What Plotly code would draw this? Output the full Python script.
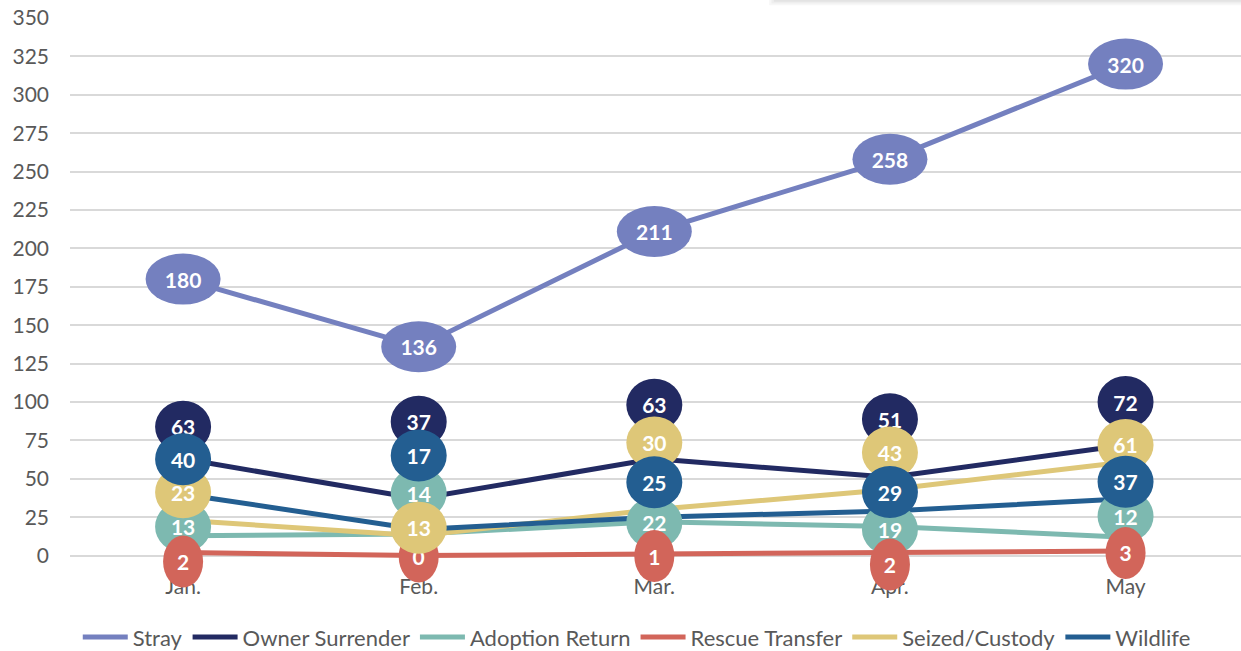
import plotly.graph_objects as go

# Monthly intake counts by source
months = ["Jan.", "Feb.", "Mar.", "Apr.", "May"]
stray = [180, 136, 211, 258, 320]
owner_surrender = [63, 37, 63, 51, 72]
adoption_return = [13, 14, 22, 19, 12]
rescue_transfer = [2, 0, 1, 2, 3]
seized_custody = [23, 13, 30, 43, 61]
wildlife = [40, 17, 25, 29, 37]
y_ticks = list(range(0, 351, 25))

# Series styling: colour, bubble size (px) and how far each value bubble
# sits above its point (px) so the stacked bubbles stay readable.
series = [
    ("Stray", stray, "#7480BF", (75, 51), [0, 0, 0, 0, 0]),
    ("Owner Surrender", owner_surrender, "#222A62", (56, 52), [32, 77, 54, 58, 43]),
    ("Adoption Return", adoption_return, "#7DB9B0", (56, 52), [9, 41, -1, -3, 21]),
    ("Rescue Transfer", rescue_transfer, "#D2655A", (40, 52), [-9, -1, -2, -12, -2]),
    ("Seized/Custody", seized_custody, "#DEC778", (56, 52), [28, 8, 67, 37, 17]),
    ("Wildlife", wildlife, "#235E91", (56, 52), [35, 74, 35, 19, 17]),
]

FONT = "Lato"
GREY = "#595959"
W, H = 1241, 651
M = dict(l=70, r=0, t=18, b=57)
X_RANGE = [-0.48, 4.49]
Y_RANGE = [-25, 350]

# pixel -> data unit conversion for sizing the value bubbles
px_per_x = (W - M["l"] - M["r"]) / (X_RANGE[1] - X_RANGE[0])
px_per_y = (H - M["t"] - M["b"]) / (Y_RANGE[1] - Y_RANGE[0])

x_idx = list(range(len(months)))

fig = go.Figure()
shapes = []
for name, values, color, (bw, bh), lift in series:
    fig.add_trace(go.Scatter(
        x=x_idx, y=values, mode="lines", name=name,
        line=dict(color=color, width=5),
        cliponaxis=False, hoverinfo="skip",
    ))
    for i, v in enumerate(values):
        cy = v + lift[i] / px_per_y
        shapes.append(dict(
            type="circle", layer="above",
            xref="x", yref="y",
            x0=i - bw / 2 / px_per_x, x1=i + bw / 2 / px_per_x,
            y0=cy - bh / 2 / px_per_y, y1=cy + bh / 2 / px_per_y,
            fillcolor=color, line=dict(width=0),
            label=dict(text=str(v), textposition="middle center",
                       font=dict(family=FONT, size=21, color="white",
                                 weight="bold")),
        ))

# soft drop shadow of a panel edge along the top
for k, (y0, a) in enumerate([(1.022, 0.03), (1.025, 0.035), (1.028, 0.045)]):
    shapes.append(dict(type="rect", xref="paper", yref="paper",
                       x0=0.597 + 0.002 * k, x1=1.0, y0=y0, y1=1.0315,
                       fillcolor=f"rgba(0,0,0,{a})", line=dict(width=0),
                       layer="below"))

fig.update_layout(
    width=W, height=H,
    margin=dict(**M, autoexpand=False),
    paper_bgcolor="white", plot_bgcolor="white",
    font=dict(family=FONT, size=21, color=GREY),
    showlegend=True,
    legend=dict(orientation="h", x=0.484, xanchor="center",
                y=-0.075, yanchor="middle",
                font=dict(family=FONT, size=22, color=GREY),
                itemwidth=45, traceorder="normal"),
    shapes=shapes,
    xaxis=dict(range=X_RANGE, tickvals=x_idx, ticktext=months,
               showgrid=False, zeroline=False, showline=False,
               anchor="free", position=0.038,
               tickfont=dict(family=FONT, size=21, color=GREY)),
    yaxis=dict(range=Y_RANGE, tickvals=y_ticks,
               showgrid=True, gridcolor="#D9D9D9", gridwidth=1.5,
               zeroline=False, showline=False,
               ticklabelstandoff=20,
               tickfont=dict(family=FONT, size=21, color=GREY)),
)

fig.write_html("out.html")
